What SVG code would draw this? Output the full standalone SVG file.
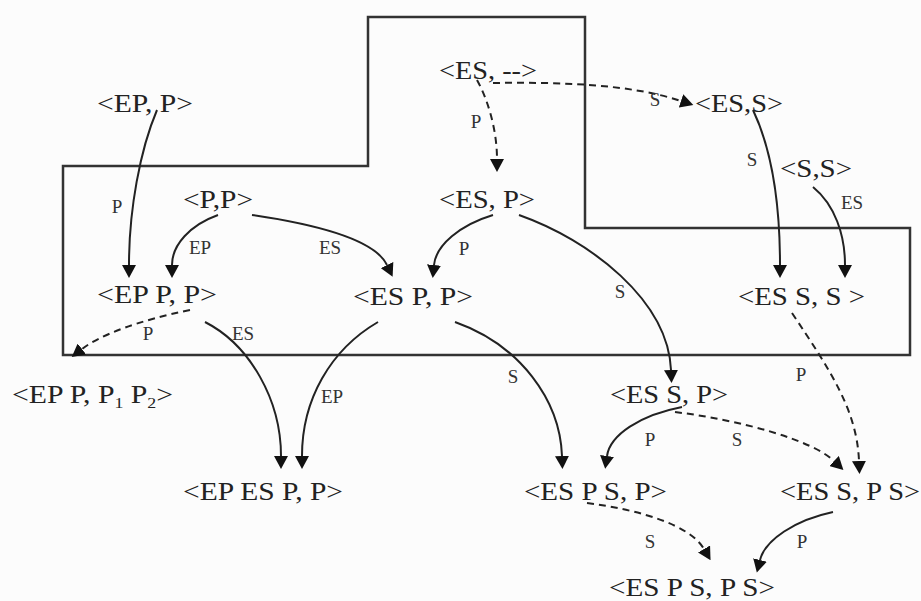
<svg xmlns="http://www.w3.org/2000/svg" width="921" height="601" viewBox="0 0 921 601">
<style>
.n{font-family:"Liberation Serif","Times New Roman",serif;font-size:25px;fill:#222}
.l{font-family:"Liberation Serif","Times New Roman",serif;font-size:19px;fill:#333;text-anchor:middle}
.c{fill:none;stroke:#222;stroke-width:2}
.d{stroke-dasharray:7,5}
.b{fill:none;stroke:#333;stroke-width:2.5}
</style>
<defs>
<marker id="ah" viewBox="0 0 13 14" refX="0" refY="7" markerWidth="13" markerHeight="14" orient="auto" markerUnits="userSpaceOnUse">
<path d="M0,0 L13,7 L0,14 z" fill="#111"/>
</marker>
</defs>
<rect width="921" height="601" fill="#fcfcfc"/>
<g id="boundary">
<path class="b" d="M368,17 L585,17 L585,228 L910,228 L910,355 L63,355 L63,166 L368,166 Z"/>
</g>
<g id="connectors">
<path class="c" marker-end="url(#ah)" d="M157,110 C140,150 129,210 129,265"/>
<path class="c" marker-end="url(#ah)" d="M218,215 C190,225 172,245 172,265"/>
<path class="c" marker-end="url(#ah)" d="M252,215 C320,225 375,240 387,265"/>
<path class="c d" marker-end="url(#ah)" d="M477,80 C488,100 497,130 497,159"/>
<path class="c d" marker-end="url(#ah)" d="M493,83 C560,82 630,84 681,101"/>
<path class="c" marker-end="url(#ah)" d="M753,110 C772,150 780,200 780,265"/>
<path class="c" marker-end="url(#ah)" d="M813,187 C835,205 845,235 845,265"/>
<path class="c" marker-end="url(#ah)" d="M493,215 C460,225 436,245 434,265"/>
<path class="c" marker-end="url(#ah)" d="M519,215 C590,240 668,300 671,370"/>
<path class="c d" marker-end="url(#ah)" d="M190,310 C140,320 100,335 82,349"/>
<path class="c" marker-end="url(#ah)" d="M205,322 C250,345 281,400 281,456"/>
<path class="c" marker-end="url(#ah)" d="M378,322 C330,350 302,400 302,456"/>
<path class="c" marker-end="url(#ah)" d="M455,322 C520,345 560,400 562,456"/>
<path class="c d" marker-end="url(#ah)" d="M792,313 C830,370 857,410 859,461"/>
<path class="c" marker-end="url(#ah)" d="M682,407 C640,415 610,435 607,456"/>
<path class="c d" marker-end="url(#ah)" d="M675,412 C740,420 812,440 834,461"/>
<path class="c d" marker-end="url(#ah)" d="M587,503 C640,510 690,525 704,549"/>
<path class="c" marker-end="url(#ah)" d="M833,512 C795,520 765,540 760,560"/>
<text class="l" x="117" y="213">P</text>
<text class="l" x="200" y="254">EP</text>
<text class="l" x="330" y="254">ES</text>
<text class="l" x="476" y="128">P</text>
<text class="l" x="655" y="106">S</text>
<text class="l" x="752" y="166">S</text>
<text class="l" x="852" y="209">ES</text>
<text class="l" x="464" y="255">P</text>
<text class="l" x="620" y="298">S</text>
<text class="l" x="148" y="340">P</text>
<text class="l" x="243" y="340">ES</text>
<text class="l" x="332" y="403">EP</text>
<text class="l" x="513" y="383">S</text>
<text class="l" x="801" y="381">P</text>
<text class="l" x="650" y="446">P</text>
<text class="l" x="737" y="446">S</text>
<text class="l" x="650" y="548">S</text>
<text class="l" x="802" y="548">P</text>
</g>
<g id="n-ep-p"><text class="n" x="97" y="112" textLength="96" lengthAdjust="spacingAndGlyphs">&lt;EP, P&gt;</text></g>
<g id="n-es-dash"><text class="n" x="439" y="79" textLength="98" lengthAdjust="spacingAndGlyphs">&lt;ES, --&gt;</text></g>
<g id="n-es-s"><text class="n" x="695" y="112" textLength="88" lengthAdjust="spacingAndGlyphs">&lt;ES,S&gt;</text></g>
<g id="n-s-s"><text class="n" x="780" y="177" textLength="72" lengthAdjust="spacingAndGlyphs">&lt;S,S&gt;</text></g>
<g id="n-p-p"><text class="n" x="183" y="208" textLength="70" lengthAdjust="spacingAndGlyphs">&lt;P,P&gt;</text></g>
<g id="n-es-p"><text class="n" x="439" y="208" textLength="96" lengthAdjust="spacingAndGlyphs">&lt;ES, P&gt;</text></g>
<g id="n-epp-p"><text class="n" x="97" y="303" textLength="120" lengthAdjust="spacingAndGlyphs">&lt;EP P, P&gt;</text></g>
<g id="n-esp-p"><text class="n" x="353" y="305" textLength="120" lengthAdjust="spacingAndGlyphs">&lt;ES P, P&gt;</text></g>
<g id="n-ess-s"><text class="n" x="738" y="305" textLength="127" lengthAdjust="spacingAndGlyphs">&lt;ES S, S &gt;</text></g>
<g id="n-epp-p1p2"><text class="n" x="12" y="403" textLength="161" lengthAdjust="spacingAndGlyphs">&lt;EP P, P<tspan font-size="15" dy="5">1</tspan><tspan dy="-5"> P</tspan><tspan font-size="15" dy="5">2</tspan><tspan dy="-5">&gt;</tspan></text></g>
<g id="n-epesp-p"><text class="n" x="183" y="500" textLength="160" lengthAdjust="spacingAndGlyphs">&lt;EP ES P, P&gt;</text></g>
<g id="n-ess-p"><text class="n" x="610" y="403" textLength="118" lengthAdjust="spacingAndGlyphs">&lt;ES S, P&gt;</text></g>
<g id="n-esps-p"><text class="n" x="524" y="500" textLength="143" lengthAdjust="spacingAndGlyphs">&lt;ES P S, P&gt;</text></g>
<g id="n-ess-ps"><text class="n" x="780" y="500" textLength="140" lengthAdjust="spacingAndGlyphs">&lt;ES S, P S&gt;</text></g>
<g id="n-esps-ps"><text class="n" x="609" y="596" textLength="166" lengthAdjust="spacingAndGlyphs">&lt;ES P S, P S&gt;</text></g>
</svg>
